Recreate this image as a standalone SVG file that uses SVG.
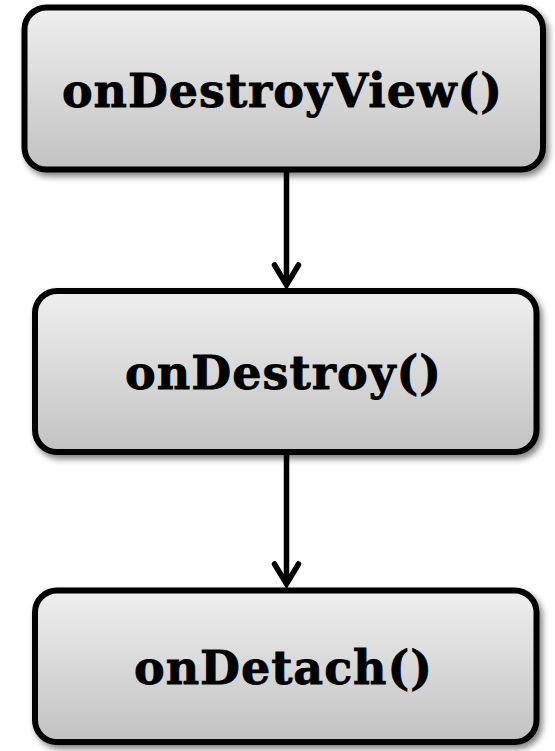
<svg xmlns="http://www.w3.org/2000/svg" width="555" height="751" viewBox="0 0 555 751">
  <defs>
    <linearGradient id="boxFill" x1="0" y1="0" x2="0" y2="1">
      <stop offset="0" stop-color="#efefef"/>
      <stop offset="1" stop-color="#c2c2c2"/>
    </linearGradient>
    <filter id="shadow" x="-10%" y="-10%" width="125%" height="135%">
      <feGaussianBlur in="SourceAlpha" stdDeviation="3"/>
      <feOffset dx="3" dy="4" result="b"/>
      <feComponentTransfer><feFuncA type="linear" slope="0.5"/></feComponentTransfer>
      <feMerge><feMergeNode/><feMergeNode in="SourceGraphic"/></feMerge>
    </filter>
    <marker id="arrow" markerUnits="userSpaceOnUse" markerWidth="30" markerHeight="30" refX="0" refY="0" orient="auto" overflow="visible">
      <path d="M-20,-12 L0,0 L-20,12" fill="none" stroke="#000" stroke-width="5.5" stroke-linejoin="miter" stroke-linecap="round"/>
    </marker>
  </defs>
  <style>
    .box { fill: url(#boxFill); stroke: #000; stroke-width: 6; filter: url(#shadow); }
    .label { font-family: "DejaVu Serif", "Liberation Serif", serif; font-weight: bold; font-size: 46px; fill: #000; stroke: #000; stroke-width: 0.8; text-anchor: middle; }
    .edge { stroke: #000; stroke-width: 5.5; fill: none; marker-end: url(#arrow); }
  </style>
  <g id="connectors">
    <line class="edge" x1="286.5" y1="170" x2="286.5" y2="285"/>
    <line class="edge" x1="286.5" y1="452" x2="286.5" y2="584"/>
  </g>
  <g id="node-onDestroyView">
    <rect class="box" x="24.5" y="7.5" width="518.5" height="162" rx="22" ry="22"/>
    <text class="label" x="282" y="107" textLength="440" lengthAdjust="spacing">onDestroyView()</text>
  </g>
  <g id="node-onDestroy">
    <rect class="box" x="35" y="291" width="501.5" height="161" rx="22" ry="22"/>
    <text class="label" x="283" y="389" textLength="316" lengthAdjust="spacing">onDestroy()</text>
  </g>
  <g id="node-onDetach">
    <rect class="box" x="35" y="590.5" width="501.5" height="151.5" rx="22" ry="22"/>
    <text class="label" x="283" y="684" textLength="298" lengthAdjust="spacing">onDetach()</text>
  </g>
</svg>
